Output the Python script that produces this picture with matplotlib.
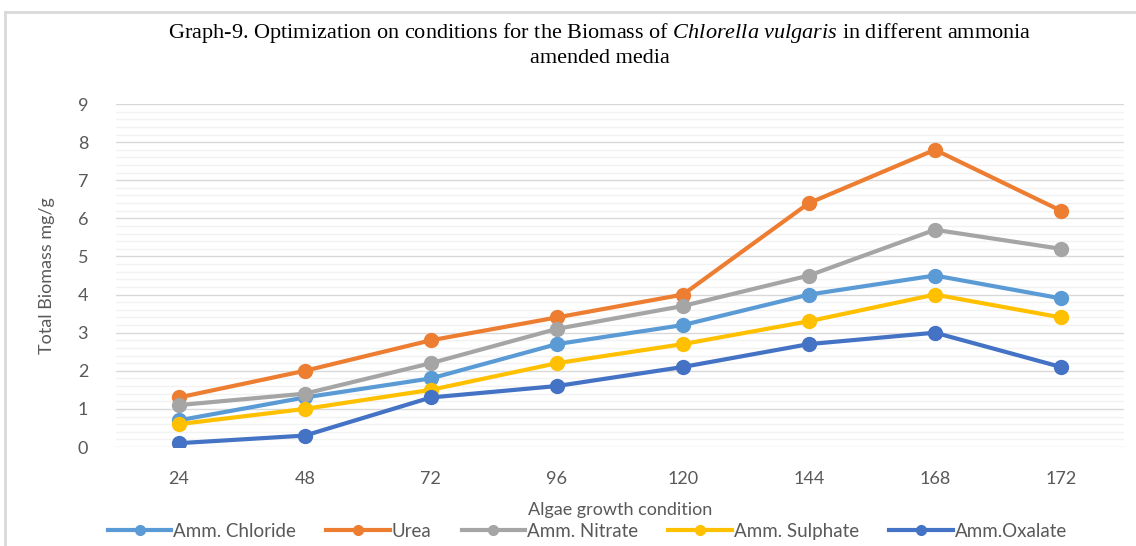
import numpy as np
import matplotlib
matplotlib.use("Agg")
from matplotlib import pyplot as plt
from matplotlib.lines import Line2D

# growth time points (hours) and biomass readings
hours = ["24", "48", "72", "96", "120", "144", "168", "172"]
amm_chloride = [0.7, 1.3, 1.8, 2.7, 3.2, 4.0, 4.5, 3.9]
urea = [1.3, 2.0, 2.8, 3.4, 4.0, 6.4, 7.8, 6.2]
amm_nitrate = [1.1, 1.4, 2.2, 3.1, 3.7, 4.5, 5.7, 5.2]
amm_sulphate = [0.6, 1.0, 1.5, 2.2, 2.7, 3.3, 4.0, 3.4]
amm_oxalate = [0.1, 0.3, 1.3, 1.6, 2.1, 2.7, 3.0, 2.1]

names = ["Amm. Chloride", "Urea", "Amm. Nitrate", "Amm. Sulphate", "Amm.Oxalate"]
colors = ["#5B9BD5", "#ED7D31", "#A5A5A5", "#FFC000", "#4472C4"]
series = [amm_chloride, urea, amm_nitrate, amm_sulphate, amm_oxalate]

# italic species name in the title in the same serif face
plt.rcParams["mathtext.fontset"] = "custom"
plt.rcParams["mathtext.it"] = "Liberation Serif:italic"
plt.rcParams["mathtext.rm"] = "Liberation Serif"

fig = plt.figure(figsize=(11.36, 5.46), dpi=100)
ax = fig.add_axes([0.102, 0.1813, 0.8874, 0.6282])

x = np.arange(len(hours))
for vals, c, n in zip(series, colors, names):
    ax.plot(x, vals, color=c, lw=3, marker="o", markersize=10, label=n,
            solid_capstyle="round", zorder=3)

ax.set_xlim(-0.5, len(hours) - 0.5)
ax.set_ylim(0, 9)
ax.set_xticks(x)
ax.set_xticklabels(hours)
ax.set_yticks(range(10))
ax.set_yticks(np.arange(0, 9.01, 0.2), minor=True)
ax.grid(axis="y", which="major", color="#D9D9D9", lw=1)
ax.grid(axis="y", which="minor", color="#F2F2F2", lw=1)
ax.set_axisbelow(True)
for s in ax.spines.values():
    s.set_visible(False)
ax.tick_params(axis="both", which="both", length=0, labelsize=13,
               colors="#595959", labelfontfamily="Lato")
ax.tick_params(axis="x", pad=17)
ax.tick_params(axis="y", pad=20)

ax.set_ylabel("Total Biomass mg/g", fontsize=13, color="#595959",
              family="Lato", labelpad=16)
ax.set_xlabel("Algae growth condition", fontsize=13, color="#595959",
              family="Lato", labelpad=11)

fig.text(0.528, 0.94, "Graph-9. Optimization on conditions for the Biomass of "
         "$\\it{Chlorella\\ vulgaris}$ in different ammonia",
         ha="center", va="center", fontsize=16, family="Liberation Serif")
fig.text(0.528, 0.893, "amended media", ha="center", va="center", fontsize=16,
         family="Liberation Serif")

handles = [Line2D([0], [0], color=c, lw=3, marker="o", markersize=7)
           for c in colors]
leg = fig.legend(handles, names, loc="center", bbox_to_anchor=(0.517, 0.027),
                 ncol=5, frameon=False, handlelength=3.4,
                 handletextpad=0.1, columnspacing=1.6,
                 prop={"family": "Lato", "size": 13.5})
for t in leg.get_texts():
    t.set_color("#595959")

# chart border
fig.add_artist(Line2D([0.004, 0.004], [0, 0.978], color="#D9D9D9", lw=2,
                      transform=fig.transFigure))
fig.add_artist(Line2D([0.004, 1.0], [0.978, 0.978], color="#D9D9D9", lw=2,
                      transform=fig.transFigure))

fig.savefig("out.png", dpi=100)
